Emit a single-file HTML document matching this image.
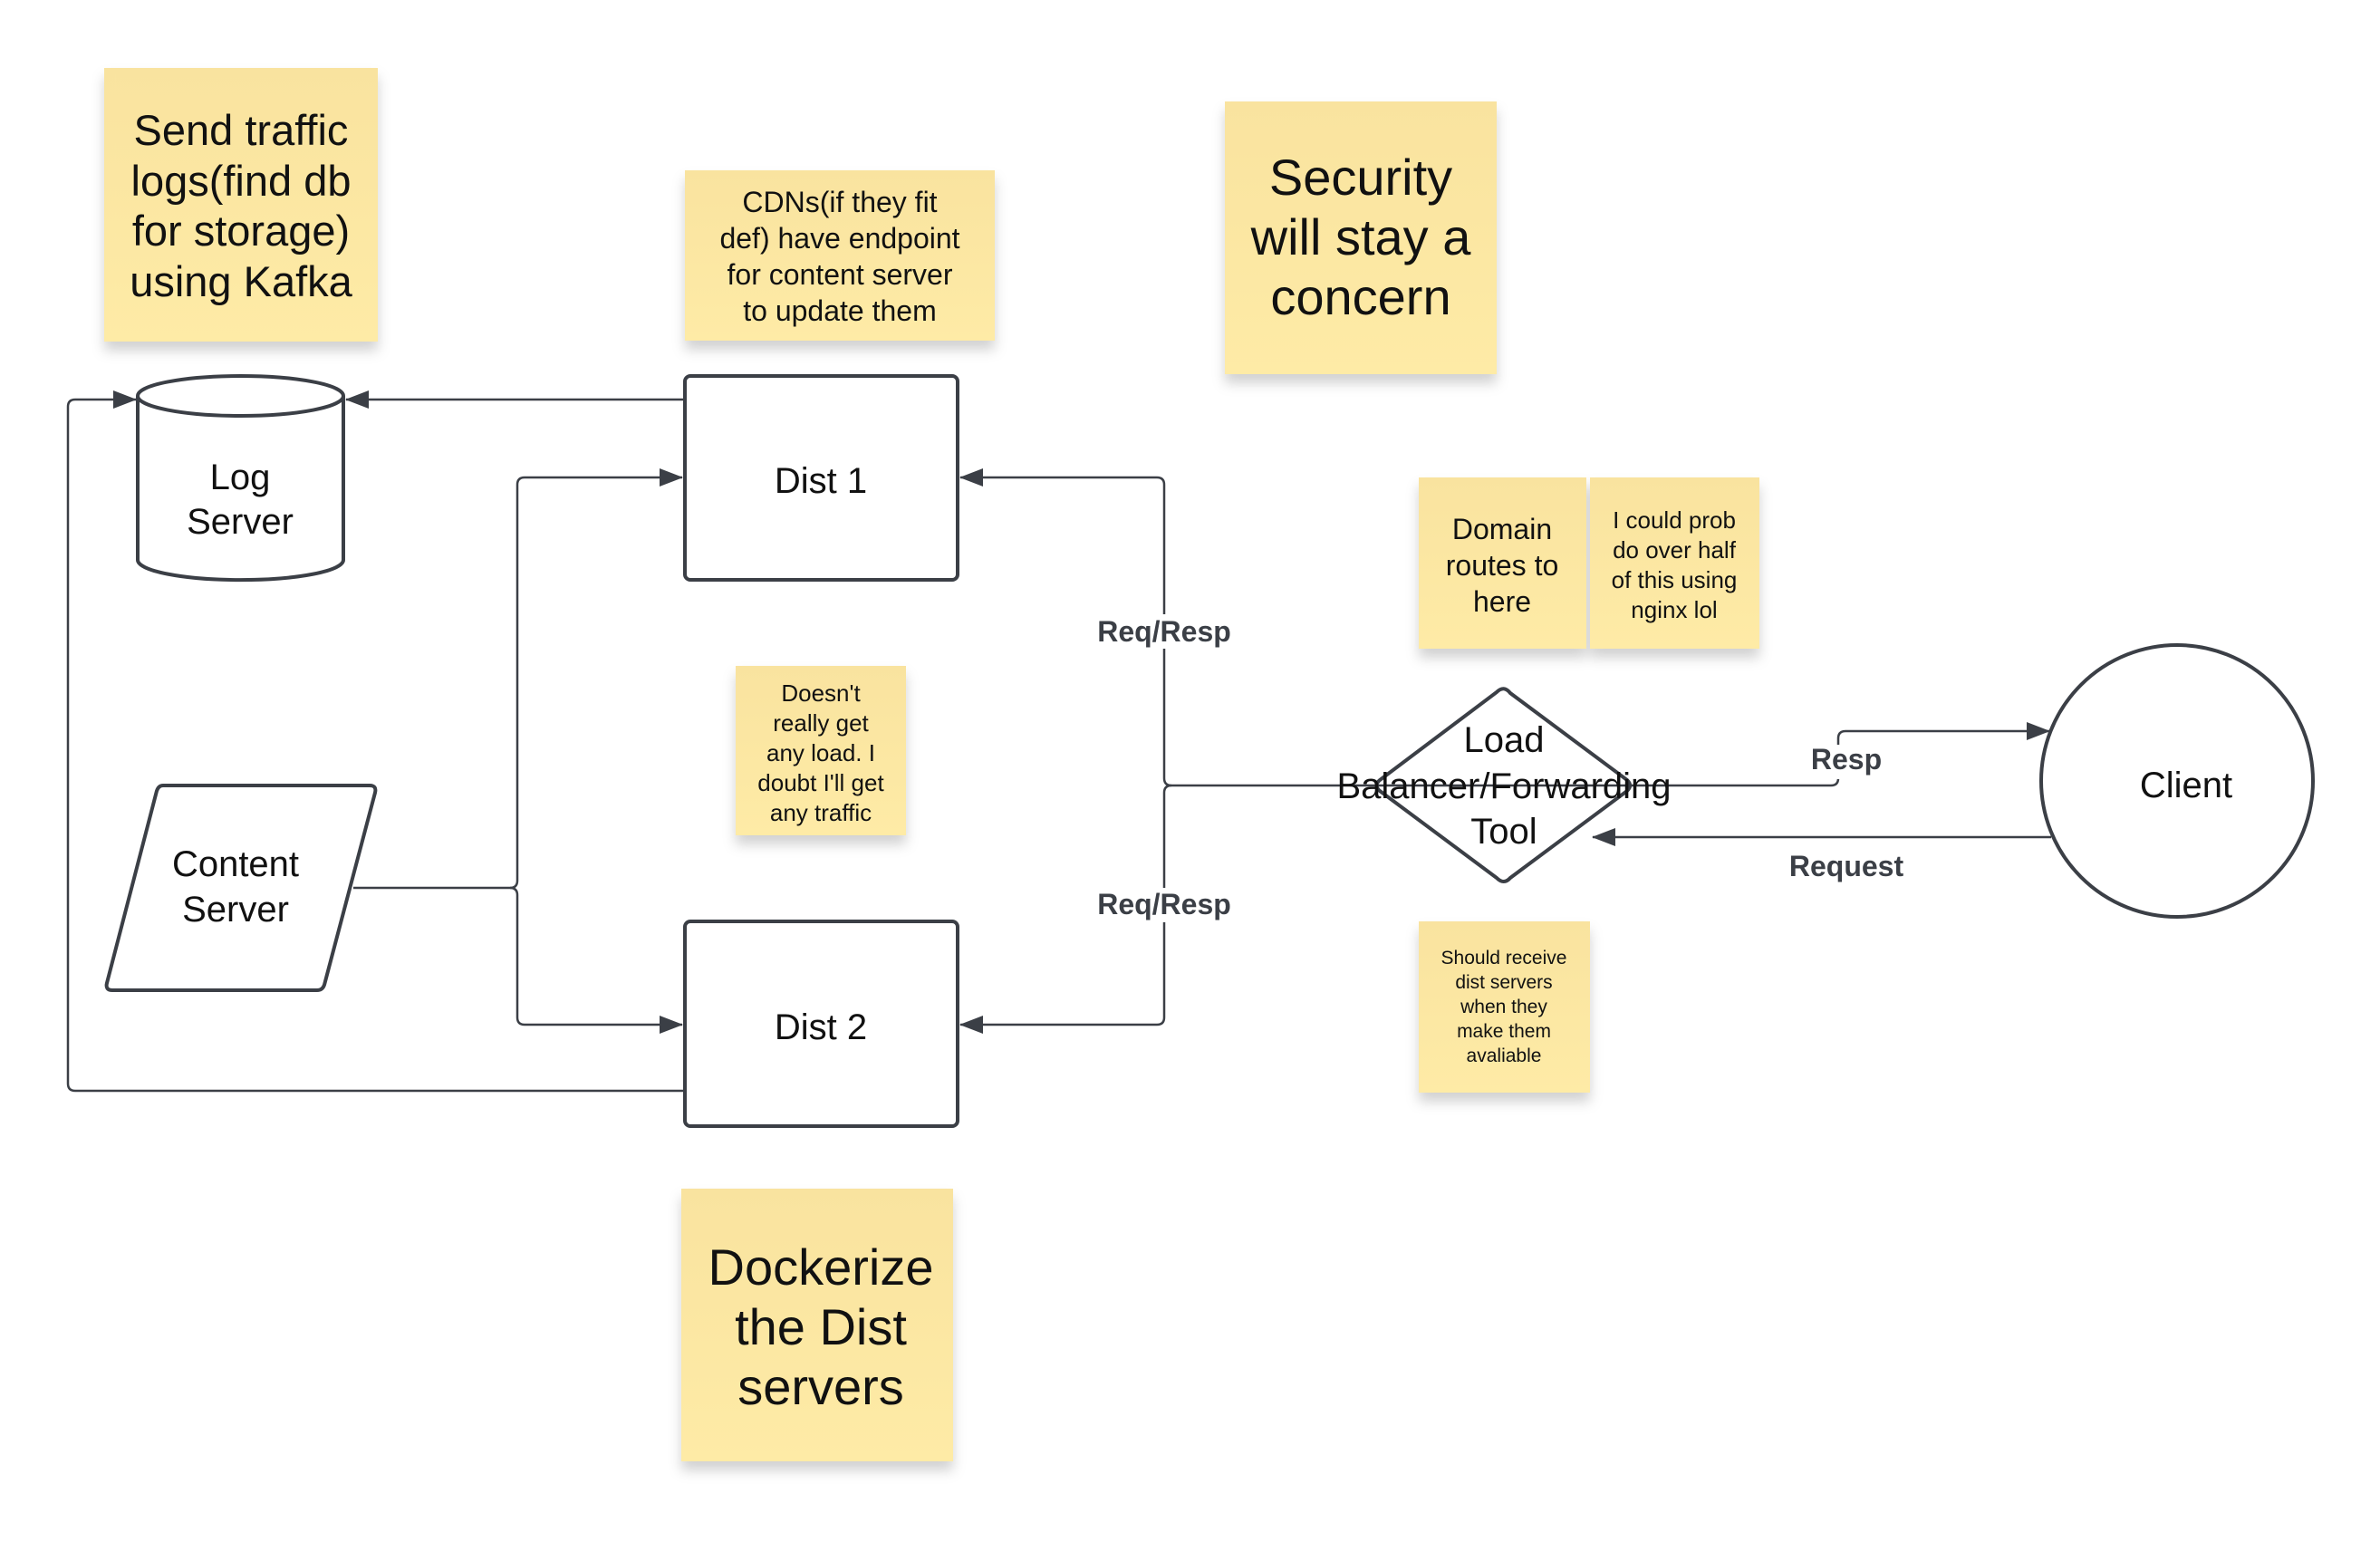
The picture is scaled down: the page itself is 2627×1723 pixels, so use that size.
<!DOCTYPE html>
<html><head><meta charset="utf-8"><style>
html,body{margin:0;padding:0;background:#fff;width:2627px;height:1723px;overflow:hidden}
svg{display:block}
text{font-family:"Liberation Sans",sans-serif;text-anchor:middle}
.n{fill:#111;font-size:40px}
.l{fill:#3b3f46;font-size:32px;font-weight:bold}
</style></head><body>
<svg width="2627" height="1723" viewBox="0 0 2627 1723" xmlns="http://www.w3.org/2000/svg">
<defs>
<linearGradient id="y" x1="0" y1="0" x2="0" y2="1"><stop offset="0" stop-color="#f9e39f"/><stop offset="1" stop-color="#feeba6"/></linearGradient>
<filter id="sh" x="-10%" y="-10%" width="120%" height="130%"><feDropShadow dx="0" dy="10" stdDeviation="7" flood-color="#000" flood-opacity="0.18"/></filter>
<marker id="a" markerWidth="26" markerHeight="20" refX="25" refY="10" orient="auto" markerUnits="userSpaceOnUse" viewBox="0 0 26 20"><path d="M0,0 L26,10 L0,20z" fill="#3b3f46"/></marker>
</defs>
<g filter="url(#sh)">
<rect x="115" y="75" width="302" height="302" fill="url(#y)"/>
<rect x="756" y="188" width="342" height="188" fill="url(#y)"/>
<rect x="1352" y="112" width="300" height="301" fill="url(#y)"/>
<rect x="812" y="735" width="188" height="187" fill="url(#y)"/>
<rect x="1566" y="527" width="185" height="189" fill="url(#y)"/>
<rect x="1755" y="527" width="187" height="189" fill="url(#y)"/>
<rect x="1566" y="1017" width="189" height="189" fill="url(#y)"/>
<rect x="752" y="1312" width="300" height="301" fill="url(#y)"/>
</g>
<g fill="#111" font-size="47">
<text x="266" y="160">Send traffic</text><text x="266" y="216">logs(find db</text><text x="266" y="271">for storage)</text><text x="266" y="327">using Kafka</text>
</g>
<g fill="#111" font-size="32">
<text x="927" y="234">CDNs(if they fit</text><text x="927" y="274">def) have endpoint</text><text x="927" y="314">for content server</text><text x="927" y="354">to update them</text>
</g>
<g fill="#111" font-size="56">
<text x="1502" y="215">Security</text><text x="1502" y="281">will stay a</text><text x="1502" y="347">concern</text>
<text x="906" y="1418">Dockerize</text><text x="906" y="1484">the Dist</text><text x="906" y="1550">servers</text>
</g>
<g fill="#111" font-size="26">
<text x="906" y="774">Doesn't</text><text x="906" y="807">really get</text><text x="906" y="840">any load. I</text><text x="906" y="873">doubt I'll get</text><text x="906" y="906">any traffic</text>
<text x="1848" y="583">I could prob</text><text x="1848" y="616">do over half</text><text x="1848" y="649">of this using</text><text x="1848" y="682">nginx lol</text>
</g>
<g fill="#111" font-size="32">
<text x="1658" y="595">Domain</text><text x="1658" y="635">routes to</text><text x="1658" y="675">here</text>
</g>
<g fill="#111" font-size="21">
<text x="1660" y="1064">Should receive</text><text x="1660" y="1091">dist servers</text><text x="1660" y="1118">when they</text><text x="1660" y="1145">make them</text><text x="1660" y="1172">avaliable</text>
</g>
<g fill="none" stroke="#3b3f46" stroke-width="2.5">
<path d="M756,441 L382,441" marker-end="url(#a)"/>
<path d="M756,1204 L83,1204 Q75,1204 75,1196 L75,449 Q75,441 83,441 L150,441" marker-end="url(#a)"/>
<path d="M390,980 L563,980 Q571,980 571,972 L571,535 Q571,527 579,527 L753,527" marker-end="url(#a)"/>
<path d="M563,980 Q571,980 571,988 L571,1123 Q571,1131 579,1131 L753,1131" marker-end="url(#a)"/>
<path d="M1516,867 L1293,867 Q1285,867 1285,859 L1285,535 Q1285,527 1277,527 L1060,527" marker-end="url(#a)"/>
<path d="M1293,867 Q1285,867 1285,875 L1285,1123 Q1285,1131 1277,1131 L1060,1131" marker-end="url(#a)"/>
<path d="M1802,867 L2021,867 Q2029,867 2029,859 L2029,815 Q2029,807 2037,807 L2262,807" marker-end="url(#a)"/>
<path d="M2264,924 L1758,924" marker-end="url(#a)"/>
</g>
<g fill="#fff" stroke="#3b3f46" stroke-width="4">
<path d="M152,437 L152,618 A113,22 0 0 0 379,618 L379,437"/>
<ellipse cx="265.5" cy="437" rx="113.5" ry="22"/>
<rect x="756" y="415" width="301" height="225" rx="6"/>
<rect x="756" y="1017" width="301" height="226" rx="6"/>
<path d="M180,867 L408,867 Q416,867 414,875 L358,1087 Q356,1093 350,1093 L124,1093 Q116,1093 118,1085 L173,873 Q175,867 180,867z"/>
<path d="M1652,764 Q1660,756 1667,765 L1796,861 Q1802,867 1796,873 L1667,969 Q1660,977 1652,969 L1523,873 Q1516,867 1523,861z" fill="none"/>
<ellipse cx="2403" cy="862" rx="150" ry="150"/>
</g>
<path d="M1516,867 L1802,867" stroke="#3b3f46" stroke-width="2.5" fill="none"/>
<text class="n" x="265" y="540">Log</text><text class="n" x="265" y="589">Server</text>
<text class="n" x="906" y="544">Dist 1</text>
<text class="n" x="906" y="1147">Dist 2</text>
<text class="n" x="260" y="967">Content</text><text class="n" x="260" y="1017">Server</text>
<text class="n" x="1660" y="830">Load</text><text class="n" x="1660" y="881">Balancer/Forwarding</text><text class="n" x="1660" y="931">Tool</text>
<text class="n" x="2413" y="880">Client</text>
<rect x="1200" y="678" width="170" height="38" fill="#fff"/><text class="l" x="1285" y="708">Req/Resp</text>
<rect x="1200" y="980" width="170" height="38" fill="#fff"/><text class="l" x="1285" y="1009">Req/Resp</text>
<rect x="1993" y="822" width="90" height="38" fill="#fff"/><text class="l" x="2038" y="849">Resp</text>
<text class="l" x="2038" y="967">Request</text>
</svg>
</body></html>
